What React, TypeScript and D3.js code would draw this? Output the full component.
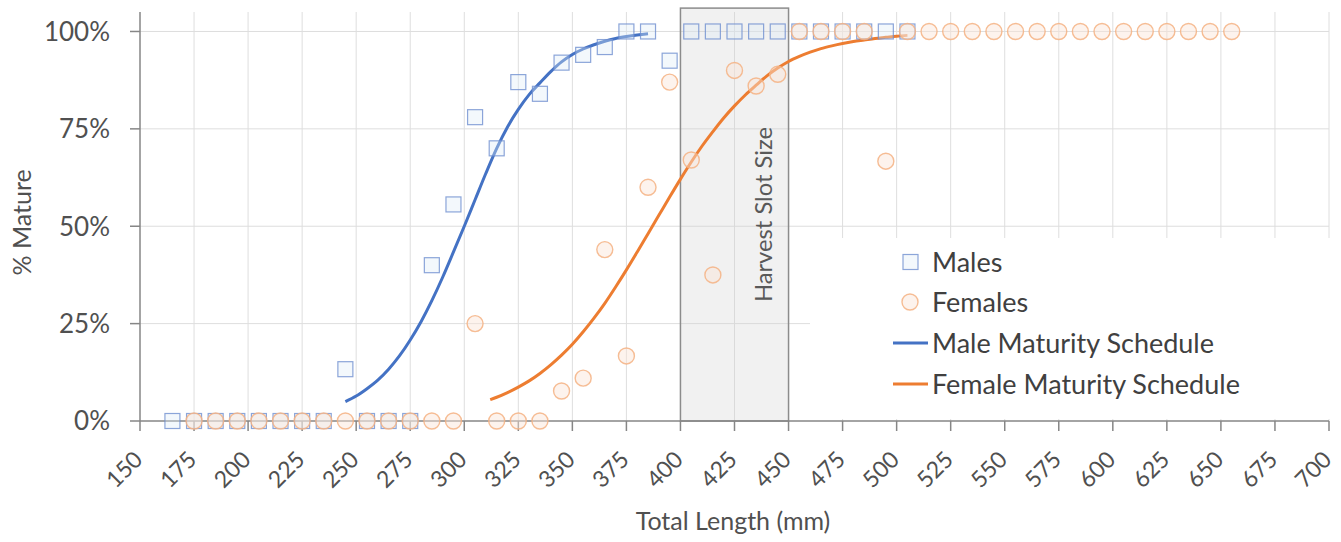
import React from "react";
import * as d3 from "d3";

// observed maturity by 10 mm length bin (bin midpoints)
const maleLengths = [165, 175, 185, 195, 205, 215, 225, 235, 245, 255, 265, 275, 285, 295, 305, 315, 325, 335, 345, 355, 365, 375, 385, 395, 405, 415, 425, 435, 445, 455, 465, 475, 485, 495, 505];
const maleMature = [0, 0, 0, 0, 0, 0, 0, 0, 0.133, 0, 0, 0, 0.4, 0.556, 0.78, 0.70, 0.87, 0.84, 0.92, 0.94, 0.96, 1, 1, 0.925, 1, 1, 1, 1, 1, 1, 1, 1, 1, 1, 1];

const femaleLengths = [175, 185, 195, 205, 215, 225, 235, 245, 255, 265, 275, 285, 295, 305, 315, 325, 335, 345, 355, 365, 375, 385, 395, 405, 415, 425, 435, 445, 455, 465, 475, 485, 495, 505, 515, 525, 535, 545, 555, 565, 575, 585, 595, 605, 615, 625, 635, 645, 655];
const femaleMature = [0, 0, 0, 0, 0, 0, 0, 0, 0, 0, 0, 0, 0, 0.25, 0, 0, 0, 0.077, 0.11, 0.44, 0.167, 0.60, 0.87, 0.67, 0.375, 0.90, 0.86, 0.89, 1, 1, 1, 1, 0.667, 1, 1, 1, 1, 1, 1, 1, 1, 1, 1, 1, 1, 1, 1, 1, 1];

// fitted maturity schedules
const maleCurveX = [245, 250, 255, 260, 265, 270, 275, 280, 285, 290, 295, 300, 305, 310, 315, 320, 325, 330, 335, 340, 345, 350, 355, 360, 365, 370, 375, 380, 385];
const maleCurveY = [0.05, 0.064, 0.083, 0.105, 0.133, 0.167, 0.208, 0.255, 0.309, 0.369, 0.434, 0.5, 0.568, 0.636, 0.70, 0.755, 0.80, 0.838, 0.868, 0.897, 0.922, 0.941, 0.955, 0.966, 0.975, 0.982, 0.987, 0.991, 0.994];

const femaleCurveX = [312, 315, 320, 325, 330, 335, 340, 345, 350, 355, 360, 365, 370, 375, 380, 385, 390, 395, 400, 405, 410, 415, 420, 425, 430, 435, 440, 445, 450, 455, 460, 465, 470, 475, 480, 485, 490, 495, 500, 505];
const femaleCurveY = [0.055, 0.061, 0.073, 0.087, 0.103, 0.122, 0.144, 0.169, 0.197, 0.229, 0.264, 0.302, 0.344, 0.388, 0.434, 0.481, 0.528, 0.575, 0.621, 0.665, 0.706, 0.743, 0.778, 0.809, 0.837, 0.862, 0.886, 0.906, 0.923, 0.936, 0.947, 0.956, 0.963, 0.969, 0.974, 0.978, 0.982, 0.985, 0.988, 0.99];

const slotRange = [400, 450];
const xTicks = d3.range(150, 701, 25);
const yTicks = [0, 0.25, 0.5, 0.75, 1];

const legendItems = ["Males", "Females", "Male Maturity Schedule", "Female Maturity Schedule"];

const BLUE = "#4472C4";
const ORANGE = "#ED7D31";
const FONT = "Lato, 'Open Sans', sans-serif";

const squareStyle = { fill: "#DEEBF7", fillOpacity: 0.35, stroke: "#6F8FCF", strokeOpacity: 0.8, strokeWidth: 1.2 };
const circleStyle = { fill: "#FBE5D6", fillOpacity: 0.45, stroke: "#F4B183", strokeOpacity: 0.85, strokeWidth: 1.4 };

export default function App() {
  const width = 1341;
  const height = 542;
  const margin = { top: 12, right: 12, bottom: 121, left: 140 };

  const x = d3.scaleLinear().domain([150, 700]).range([margin.left, width - margin.right]);
  const y = d3.scaleLinear().domain([0, 1.05]).range([height - margin.bottom, margin.top]);

  const line = d3
    .line<[number, number]>()
    .x((d) => x(d[0]))
    .y((d) => y(d[1]))
    .curve(d3.curveMonotoneX);

  const malePath = line(maleCurveX.map((v, i) => [v, maleCurveY[i]]));
  const femalePath = line(femaleCurveX.map((v, i) => [v, femaleCurveY[i]]));

  const x0 = x(150);
  const x1 = x(700);
  const yBottom = y(0);
  const yTop = y(1.05);

  const legend = { x: 810, y: 238, w: 525, h: 181 };
  const rowY = [262, 302, 343, 384];

  return (
    <div style={{ position: "absolute", left: 0, top: 0 }}>
      <svg width={width} height={height} style={{ display: "block", background: "#fff" }}>
        {/* gridlines */}
        <g stroke="#DEDEDE" strokeWidth={1}>
          {xTicks.slice(1).map((t) => (
            <line key={"gx" + t} x1={x(t)} x2={x(t)} y1={yTop} y2={yBottom} />
          ))}
          {yTicks.slice(1).map((t) => (
            <line key={"gy" + t} x1={x0} x2={x1} y1={y(t)} y2={y(t)} />
          ))}
        </g>

        {/* harvest slot */}
        <rect
          x={x(slotRange[0])}
          y={y(1.06)}
          width={x(slotRange[1]) - x(slotRange[0])}
          height={yBottom - y(1.06)}
          fill="#D0D0D0"
          fillOpacity={0.3}
          stroke="#8C8C8C"
          strokeWidth={1.5}
        />
        <text
          transform={`translate(${x(slotRange[0]) + 83},${y(0.53)}) rotate(-90)`}
          textAnchor="middle"
          dy="0.35em"
          fontFamily={FONT}
          fontSize={23}
          fill="#595959"
          textLength={175}
          lengthAdjust="spacingAndGlyphs"
        >
          Harvest Slot Size
        </text>

        {/* axes */}
        <g stroke="#868686" strokeWidth={1.5}>
          <line x1={x0} x2={x0} y1={yTop} y2={yBottom} />
          <line x1={x0} x2={x1} y1={yBottom} y2={yBottom} />
          {yTicks.map((t) => (
            <line key={"ty" + t} x1={x0 - 10} x2={x0} y1={y(t)} y2={y(t)} />
          ))}
          {xTicks.map((t) => (
            <line key={"tx" + t} x1={x(t)} x2={x(t)} y1={yBottom} y2={yBottom + 10} />
          ))}
        </g>
        <g fontFamily={FONT} fill="#505050">
          {yTicks.map((t) => (
            <text key={"ly" + t} x={x0 - 30} y={y(t)} dy="0.36em" textAnchor="end" fontSize={26}>
              {d3.format(".0%")(t)}
            </text>
          ))}
          {xTicks.map((t) => (
            <text
              key={"lx" + t}
              transform={`translate(${x(t) + 4},${yBottom + 40}) rotate(-45)`}
              textAnchor="end"
              fontSize={23}
            >
              {t}
            </text>
          ))}
          <text x={733} y={530} textAnchor="middle" fontSize={25}>
            Total Length (mm)
          </text>
          <text transform={`translate(31,${y(0.51)}) rotate(-90)`} textAnchor="middle" fontSize={25}>
            % Mature
          </text>
        </g>

        {/* curves */}
        <path d={malePath ?? ""} fill="none" stroke={BLUE} strokeWidth={3} />
        <path d={femalePath ?? ""} fill="none" stroke={ORANGE} strokeWidth={3} />

        {/* observed points */}
        <g>
          {maleLengths.map((v, i) => (
            <rect key={"m" + v} x={x(v) - 7.5} y={y(maleMature[i]) - 7.5} width={15} height={15} {...squareStyle} />
          ))}
          {femaleLengths.map((v, i) => (
            <circle key={"f" + v} cx={x(v)} cy={y(femaleMature[i])} r={8} {...circleStyle} />
          ))}
        </g>

        {/* legend */}
        <rect x={legend.x} y={legend.y} width={legend.w} height={legend.h} fill="#fff" />
        <rect x={903} y={rowY[0] - 7.5} width={15} height={15} {...squareStyle} />
        <circle cx={910} cy={rowY[1]} r={8} {...circleStyle} />
        <line x1={893} x2={928} y1={rowY[2]} y2={rowY[2]} stroke={BLUE} strokeWidth={3} />
        <line x1={893} x2={928} y1={rowY[3]} y2={rowY[3]} stroke={ORANGE} strokeWidth={3} />
        <g fontFamily={FONT} fontSize={27} fill="#404040">
          {legendItems.map((d, i) => (
            <text key={d} x={932} y={rowY[i]} dy="0.36em">
              {d}
            </text>
          ))}
        </g>
      </svg>
    </div>
  );
}
